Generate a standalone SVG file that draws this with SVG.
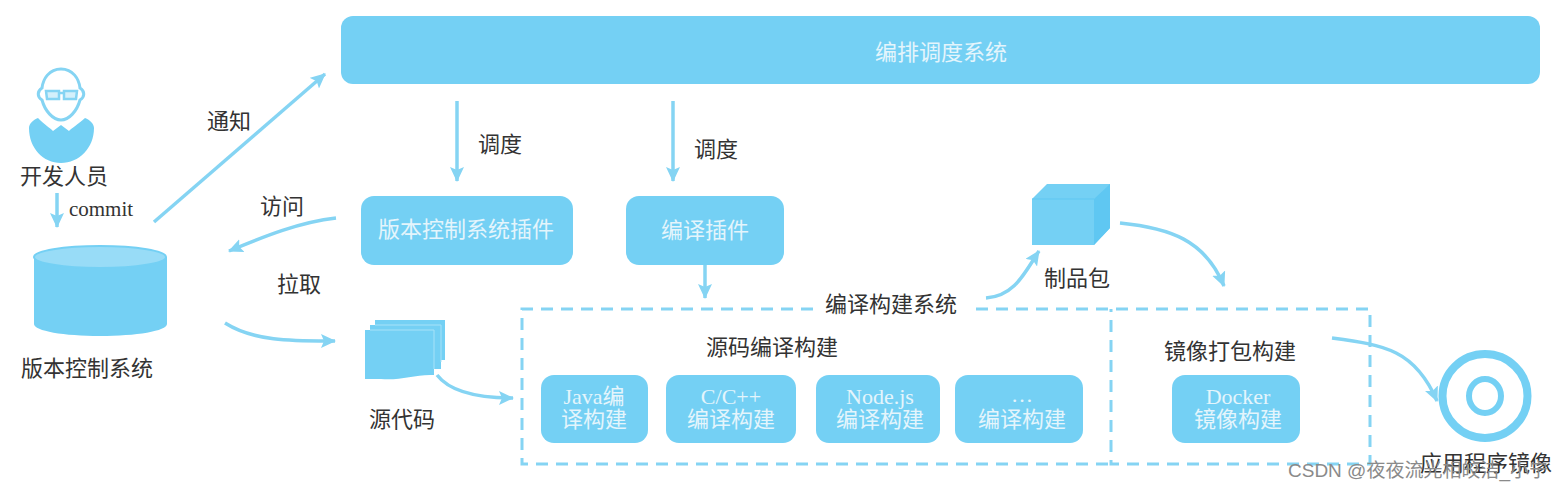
<svg xmlns="http://www.w3.org/2000/svg" width="1565" height="489" viewBox="0 0 1565 489">
<style>
text{font-family:"Liberation Serif","Noto Sans CJK SC",serif}
.d{fill:#333;font-size:22px;text-anchor:middle}
.w{fill:#e4f5fc;font-size:22px;text-anchor:middle}
.b{fill:#74d0f4}
.c{fill:none;stroke:#85d4f3;stroke-width:3.5}
.dash{fill:none;stroke:#85d4f3;stroke-width:3;stroke-dasharray:12 8}
</style>
<defs>
<marker id="a" markerUnits="userSpaceOnUse" markerWidth="18" markerHeight="14" refX="14" refY="7" orient="auto"><path d="M0 0L15 7L0 14L3 7Z" fill="#85d4f3"/></marker>
</defs>
<rect width="1565" height="489" fill="#fff"/>
<g id="orchestrator"><rect class="b" x="341" y="16" width="1199" height="68" rx="12"/><text class="w" x="941" y="60">编排调度系统</text></g>
<g id="developer">
<path d="M61 69C73 69 79 79 80 88C85 91 85 97 80 100C77 111 69 120 61 120C53 120 45 111 42 100C37 97 37 91 42 88C43 79 49 69 61 69Z" fill="#fff" stroke="#85d4f3" stroke-width="3"/>
<path d="M46 91h13v8h-12zM64 91h13l-1 8h-12zM59 93h5" fill="#d4f0fb" stroke="#85d4f3" stroke-width="2.5"/>
<path class="b" d="M38 118C44 124 50 128 53 131L61 125L69 131C72 128 78 124 85 118C90 120 94 124 94 128C94 148 79 163 61 163C43 163 29 148 29 128C29 124 33 120 38 118Z"/>
<text class="d" x="64" y="184">开发人员</text>
</g>
<g id="vcs">
<path class="b" d="M34 257V324C34 331 64 336 100 336C136 336 167 331 167 324V257Z"/>
<ellipse cx="100" cy="257" rx="66" ry="11" fill="#98dcf7" stroke="#74d0f4" stroke-width="2"/>
<text class="d" x="87" y="376">版本控制系统</text>
</g>
<g id="vcs-plugin"><rect class="b" x="361" y="196" width="212" height="69" rx="13"/><text class="w" x="466" y="237">版本控制系统插件</text></g>
<g id="build-plugin"><rect class="b" x="626" y="196" width="158" height="69" rx="13"/><text class="w" x="705" y="238">编译插件</text></g>
<g id="source">
<path class="b" d="M375 320H445V360H441V369H434V375C415 374 400 381 381 379H365V330H370V325H375Z"/>
<path d="M370 330H434V369M375 325H441V362" fill="none" stroke="#a7e2f8" stroke-width="1"/>
<text class="d" x="402" y="427">源代码</text>
</g>
<g id="package">
<path class="b" d="M1032 199L1047 184H1110V228L1094 245H1032Z"/>
<path d="M1094 199L1110 184V228L1094 245Z" fill="#5fc7f2"/>
<path d="M1032 199H1094" fill="none" stroke="#5fc7f2" stroke-width="1"/>
<text class="d" x="1077" y="286">制品包</text>
</g>
<g id="build-system">
<path class="dash" d="M813 309H522V464H1111M976 309H1370V464H1111V309"/>
<text class="d" x="891" y="312">编译构建系统</text>
<text class="d" x="772" y="355">源码编译构建</text>
<text class="d" x="1230" y="359">镜像打包构建</text>
</g>
<g id="java"><rect class="b" x="541" y="375" width="107" height="68" rx="13"/><text class="w" x="594" y="404">Java编</text><text class="w" x="594" y="427">译构建</text></g>
<g id="cpp"><rect class="b" x="666" y="375" width="130" height="68" rx="13"/><text class="w" x="731" y="404">C/C++</text><text class="w" x="731" y="427">编译构建</text></g>
<g id="node"><rect class="b" x="816" y="375" width="124" height="68" rx="13"/><text class="w" x="880" y="404">Node.js</text><text class="w" x="880" y="427">编译构建</text></g>
<g id="other"><rect class="b" x="955" y="375" width="128" height="68" rx="13"/><text class="w" x="1022" y="402">…</text><text class="w" x="1022" y="427">编译构建</text></g>
<g id="docker"><rect class="b" x="1172" y="375" width="128" height="68" rx="13"/><text class="w" x="1238" y="404">Docker</text><text class="w" x="1238" y="427">镜像构建</text></g>
<g id="image">
<ellipse cx="1485" cy="396" rx="42.5" ry="42" fill="#fff" stroke="#74d0f4" stroke-width="8"/>
<ellipse cx="1485" cy="396" rx="16" ry="17" fill="#fff" stroke="#74d0f4" stroke-width="6"/>
<text class="d" x="1486" y="471">应用程序镜像</text>
</g>
<g id="connectors">
<path class="c" marker-end="url(#a)" d="M154 222L325 74"/>
<path class="c" marker-end="url(#a)" d="M57 193V227"/>
<path class="c" marker-end="url(#a)" d="M457 101V181"/>
<path class="c" marker-end="url(#a)" d="M673 101V181"/>
<path class="c" marker-end="url(#a)" d="M336 218C300 222 265 236 229 251"/>
<path class="c" marker-end="url(#a)" d="M225 323C255 342 295 341 335 341"/>
<path class="c" marker-end="url(#a)" d="M705 265V298"/>
<path class="c" marker-end="url(#a)" d="M437 375C450 392 480 398 513 398"/>
<path class="c" marker-end="url(#a)" d="M986 298C1015 296 1025 272 1039 251"/>
<path class="c" marker-end="url(#a)" d="M1120 223C1170 228 1205 240 1224 286"/>
<path class="c" marker-end="url(#a)" d="M1332 338C1385 345 1415 350 1437 401"/>
</g>
<g id="labels">
<text class="d" x="229" y="129">通知</text>
<text class="d" x="500" y="152">调度</text>
<text class="d" x="716" y="157">调度</text>
<text class="d" x="282" y="214">访问</text>
<text class="d" x="299" y="292">拉取</text>
<text x="101" y="216" fill="#333" font-size="21" text-anchor="middle">commit</text>
</g>
<text x="1288" y="477" fill="#8a8a8a" font-size="19" style="font-family:'Liberation Sans','Noto Sans CJK SC',sans-serif">CSDN @夜夜流光相皎洁_小宁</text>
</svg>
